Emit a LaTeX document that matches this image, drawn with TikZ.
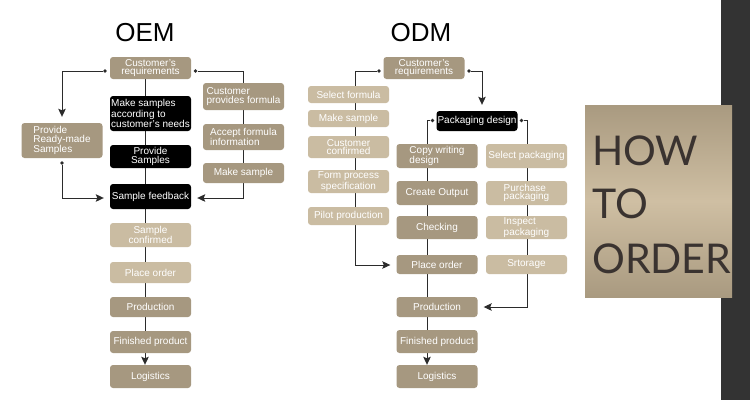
\documentclass[tikz,border=0pt]{standalone}
\usepackage{fontspec}
\setmainfont{Liberation Sans}
\newfontfamily\latofont{Lato}
\usetikzlibrary{arrows.meta,backgrounds}
\definecolor{dtan}{HTML}{A69880}
\definecolor{ltan}{HTML}{CABCA2}
\definecolor{bandc}{HTML}{333333}
\definecolor{wirec}{HTML}{2B2B2B}
\definecolor{howtop}{HTML}{A99A80}
\definecolor{howmid}{HTML}{CFBFA3}
\definecolor{howtext}{HTML}{3A3330}
\begin{document}
\begin{tikzpicture}[x=1pt,y=-1pt,
 box/.style={rounded corners=3pt,text=white,inner sep=0pt,minimum width=81pt,align=center,font=\fontsize{10}{8.5}\selectfont},
 dk/.style={box,fill=dtan}, lt/.style={box,fill=ltan}, bk/.style={box,fill=black},
 wire/.style={draw=wirec,line width=0.9pt},
 arr/.style={wire,-{Stealth[length=8pt,width=7.5pt,inset=1.5pt]},shorten >=6pt},
 dot/.style={circle,fill=wirec,inner sep=0pt,minimum size=3.8pt},
 ttl/.style={font=\fontsize{26}{26}\selectfont,text=black},
 how/.style={anchor=base west,font=\latofont\fontsize{41}{41}\selectfont,text=howtext,inner sep=0pt}]
\useasboundingbox (0,0) rectangle (750,400);
\node[shading=axis,top color=howtop,bottom color=howtop,middle color=howmid,minimum width=147pt,minimum height=192pt,inner sep=0pt] (howbox) at (658.5,201) {};
\node[how] (how1) at (592,165) {HOW};
\node[how] (how2) at (592,218) {TO};
\node[how] (how3) at (592,273) {ORDER};

% titles
\node[ttl] (toem) at (145,33) {OEM};
\node[ttl] (todm) at (421,33) {ODM};

% OEM
\node[dk,minimum height=22] (oreq) at (150.5,68) {Customer's\\requirements};
\node[bk,minimum height=35,align=left] (omake) at (150.5,113.5) {Make samples\\according to\\customer's needs};
\node[bk,minimum height=23] (oprov) at (150.5,156.5) {Provide\\Samples};
\node[bk,minimum height=25] (ofb) at (150.5,196.5) {Sample feedback};
\node[dk,minimum height=35,align=left] (oready) at (62,140.5) {Provide\\Ready-made\\Samples};
\node[dk,minimum height=27,align=left] (ocpf) at (243.5,96.5) {Customer\\provides formula};
\node[dk,minimum height=26,align=left] (oacc) at (243.5,137) {Accept formula\\information};
\node[dk,minimum height=20] (omks) at (243.5,173) {Make sample};
\node[lt,minimum height=24] (oconf) at (150.5,235) {Sample\\confirmed};
\node[lt,minimum height=21] (oplace) at (150.5,272.5) {Place order};
\node[dk,minimum height=20] (oprod) at (150.5,307) {Production};
\node[dk,minimum height=22] (ofin) at (150.5,342) {Finished product};
\node[dk,minimum height=23] (olog) at (150.5,376.5) {Logistics};
\node[dot] (odl) at (105,71) {};
\node[dot] (odr) at (195.5,71) {};
\node[dot] (odb) at (62,163) {};
\coordinate (ocR) at (243.5,198);

% ODM
\node[dk,minimum height=22] (dreq) at (424,68) {Customer's\\requirements};
\node[lt,minimum height=17] (dsel) at (348.5,94.5) {Select formula};
\node[lt,minimum height=17] (dmks) at (348.5,118.5) {Make sample};
\node[lt,minimum height=22] (dconf) at (348.5,147) {Customer\\confirmed};
\node[lt,minimum height=23] (dform) at (348.5,181.5) {Form process\\specification};
\node[lt,minimum height=18] (dpilot) at (348.5,216) {Pilot production};
\node[bk,minimum height=20] (dpack) at (477,121) {Packaging design};
\node[dk,minimum height=24,align=left] (dcopy) at (437,156) {Copy writing\\design};
\node[dk,minimum height=24] (dout) at (437,193) {Create Output};
\node[dk,minimum height=23] (dchk) at (437,227.5) {Checking};
\node[lt,minimum height=24] (dselp) at (526.5,156) {Select packaging};
\node[lt,minimum height=24,align=left] (dpur) at (526.5,193) {Purchase\\packaging};
\node[lt,minimum height=23,align=left] (dins) at (526.5,227.5) {Inspect\\packaging};
\node[dk,minimum height=19] (dplace) at (437,264.5) {Place order};
\node[lt,minimum height=19] (dstor) at (526.5,264.5) {Srtorage};
\node[dk,minimum height=20] (dprod) at (437,307) {Production};
\node[dk,minimum height=23] (dfin) at (437,341.5) {Finished product};
\node[dk,minimum height=23] (dlog) at (437,376.5) {Logistics};
\node[dot] (ddl) at (379,71) {};
\node[dot] (ddr) at (469,71) {};
\node[dot] (dpl) at (432.5,120.5) {};
\node[dot] (dpr) at (521.5,120.5) {};
\coordinate (dcL) at (355,265);
\coordinate (dcR) at (527,307);

\begin{scope}[on background layer]
\fill[white] (0,0) rectangle (750,400);
\fill[bandc] (721,0) rectangle (750,400);
% OEM
\draw[wire] ([xshift=-5.5pt]oreq.south) -- ([xshift=-5.5pt]ofin.south);
\draw[arr,shorten >=0pt] ([xshift=-5.5pt]ofin.south) -- ([xshift=-5.5pt]olog.north);
\draw[arr] (odl) -| (oready);
\draw[arr] (odr) -| (ocR) -- (ofb.east |- ocR);
\draw[arr] (odb) |- (ofb.west |- ocR);
% ODM
\draw[arr] (ddl) -| (dcL) -- (dplace.west |- dcL);
\draw[arr] (ddr) -| ([xshift=5pt]dpack.north);
\draw[wire] (dpl) -| ([xshift=-10pt]dfin.south);
\draw[arr,shorten >=0pt] ([xshift=-10pt]dfin.south) -- ([xshift=-10pt]dlog.north);
\draw[arr] (dpr) -| (dcR) -- (dprod.east |- dcR);
\end{scope}
\end{tikzpicture}
\end{document}
